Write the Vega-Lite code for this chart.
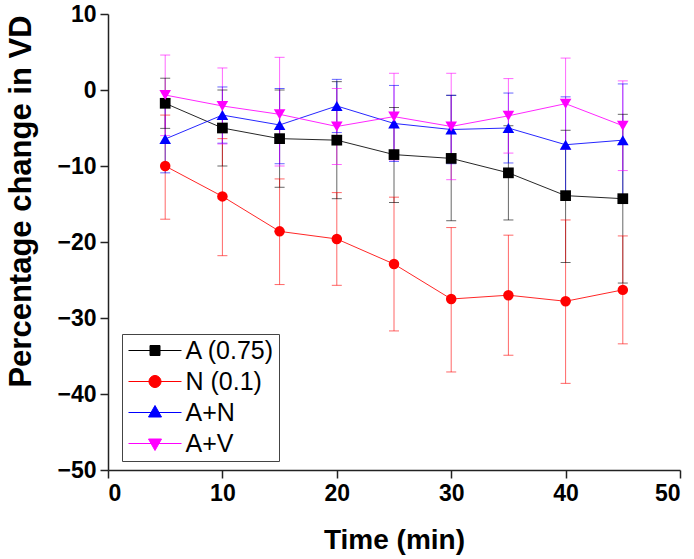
{
  "$schema": "https://vega.github.io/schema/vega-lite/v6.json",
  "width": 572,
  "height": 456,
  "autosize": "none",
  "padding": {"left": 108, "top": 14, "right": 14, "bottom": 89},
  "background": "white",
  "data": {
    "values": [
      {"series": "A (0.75)", "time": 5, "mean": -1.75, "lo": -5.05, "hi": 1.55},
      {"series": "A (0.75)", "time": 10, "mean": -5.0, "lo": -10.0, "hi": 0.0},
      {"series": "A (0.75)", "time": 15, "mean": -6.4, "lo": -12.8, "hi": 0.0},
      {"series": "A (0.75)", "time": 20, "mean": -6.6, "lo": -14.3, "hi": 1.1},
      {"series": "A (0.75)", "time": 25, "mean": -8.5, "lo": -14.8, "hi": -2.3},
      {"series": "A (0.75)", "time": 30, "mean": -9.0, "lo": -17.2, "hi": -0.7},
      {"series": "A (0.75)", "time": 35, "mean": -10.9, "lo": -17.1, "hi": -4.7},
      {"series": "A (0.75)", "time": 40, "mean": -13.9, "lo": -22.7, "hi": -5.3},
      {"series": "A (0.75)", "time": 45, "mean": -14.3, "lo": -25.4, "hi": -3.2},
      {"series": "N (0.1)", "time": 5, "mean": -10.0, "lo": -17.0, "hi": -3.3},
      {"series": "N (0.1)", "time": 10, "mean": -14.0, "lo": -21.8, "hi": -6.4},
      {"series": "N (0.1)", "time": 15, "mean": -18.6, "lo": -25.6, "hi": -11.7},
      {"series": "N (0.1)", "time": 20, "mean": -19.6, "lo": -25.7, "hi": -13.5},
      {"series": "N (0.1)", "time": 25, "mean": -22.9, "lo": -31.7, "hi": -14.1},
      {"series": "N (0.1)", "time": 30, "mean": -27.5, "lo": -37.1, "hi": -18.1},
      {"series": "N (0.1)", "time": 35, "mean": -27.0, "lo": -34.9, "hi": -19.1},
      {"series": "N (0.1)", "time": 40, "mean": -27.8, "lo": -38.6, "hi": -17.1},
      {"series": "N (0.1)", "time": 45, "mean": -26.3, "lo": -33.4, "hi": -19.2},
      {"series": "A+N", "time": 5, "mean": -6.45, "lo": -10.9, "hi": -2.0},
      {"series": "A+N", "time": 10, "mean": -3.3, "lo": -7.0, "hi": 0.4},
      {"series": "A+N", "time": 15, "mean": -4.6, "lo": -9.7, "hi": 0.2},
      {"series": "A+N", "time": 20, "mean": -2.1, "lo": -5.6, "hi": 1.4},
      {"series": "A+N", "time": 25, "mean": -4.4, "lo": -9.4, "hi": 0.6},
      {"series": "A+N", "time": 30, "mean": -5.2, "lo": -9.7, "hi": -0.7},
      {"series": "A+N", "time": 35, "mean": -5.0, "lo": -9.6, "hi": -0.4},
      {"series": "A+N", "time": 40, "mean": -7.2, "lo": -13.6, "hi": -0.9},
      {"series": "A+N", "time": 45, "mean": -6.6, "lo": -14.0, "hi": 0.8},
      {"series": "A+V", "time": 5, "mean": -0.66, "lo": -6.0, "hi": 4.6},
      {"series": "A+V", "time": 10, "mean": -2.1, "lo": -7.1, "hi": 2.9},
      {"series": "A+V", "time": 15, "mean": -3.2, "lo": -10.0, "hi": 4.3},
      {"series": "A+V", "time": 20, "mean": -4.8, "lo": -9.8, "hi": 0.2},
      {"series": "A+V", "time": 25, "mean": -3.5, "lo": -9.2, "hi": 2.2},
      {"series": "A+V", "time": 30, "mean": -4.8, "lo": -11.8, "hi": 2.2},
      {"series": "A+V", "time": 35, "mean": -3.4, "lo": -8.3, "hi": 1.5},
      {"series": "A+V", "time": 40, "mean": -1.8, "lo": -7.8, "hi": 4.2},
      {"series": "A+V", "time": 45, "mean": -4.7, "lo": -10.6, "hi": 1.2}
    ]
  },
  "encoding": {
    "x": {
      "field": "time",
      "type": "quantitative",
      "title": "Time (min)",
      "scale": {"domain": [0, 50], "nice": false, "zero": false},
      "axis": {
        "values": [0, 10, 20, 30, 40, 50],
        "titleFontSize": 28,
        "titleY": 78,
        "titleBaseline": "alphabetic"
      }
    }
  },
  "layer": [
    {
      "mark": {"type": "rule", "strokeWidth": 1, "opacity": 0.6},
      "encoding": {
        "y": {
          "field": "lo",
          "type": "quantitative",
          "title": "Percentage change in VD",
          "scale": {"domain": [-50, 10], "nice": false, "zero": false},
          "axis": {
            "values": [-50, -40, -30, -20, -10, 0, 10],
            "titleFontSize": 31,
            "titleX": -78,
            "titleY": 187,
            "titleBaseline": "alphabetic"
          }
        },
        "y2": {"field": "hi"},
        "color": {
          "field": "series",
          "type": "nominal",
          "scale": {"domain": ["A+N", "A+V", "A (0.75)", "N (0.1)"], "range": ["#0000ff", "#ff00ff", "#000000", "#ff0000"]},
          "legend": null
        }
      }
    },
    {
      "mark": {"type": "tick", "orient": "horizontal", "size": 10, "thickness": 1, "opacity": 0.6},
      "encoding": {
        "y": {"field": "hi", "type": "quantitative", "title": "Percentage change in VD"},
        "color": {"field": "series", "type": "nominal", "legend": null}
      }
    },
    {
      "mark": {"type": "tick", "orient": "horizontal", "size": 10, "thickness": 1, "opacity": 0.6},
      "encoding": {
        "y": {"field": "lo", "type": "quantitative", "title": "Percentage change in VD"},
        "color": {"field": "series", "type": "nominal", "legend": null}
      }
    },
    {
      "mark": {"type": "line", "strokeWidth": 1, "opacity": 0.85},
      "encoding": {
        "y": {"field": "mean", "type": "quantitative", "title": "Percentage change in VD"},
        "color": {"field": "series", "type": "nominal", "legend": null}
      }
    },
    {
      "transform": [{"filter": "datum.series == 'A (0.75)'"}],
      "mark": {"type": "point", "shape": "square", "filled": true, "size": 115, "opacity": 1, "color": "#000000"},
      "encoding": {
        "y": {"field": "mean", "type": "quantitative", "title": "Percentage change in VD"}
      }
    },
    {
      "transform": [{"filter": "datum.series == 'N (0.1)'"}],
      "mark": {"type": "point", "shape": "circle", "filled": true, "size": 110, "opacity": 1, "color": "#ff0000"},
      "encoding": {
        "y": {"field": "mean", "type": "quantitative", "title": "Percentage change in VD"}
      }
    },
    {
      "transform": [{"filter": "datum.series == 'A+N'"}],
      "mark": {"type": "point", "shape": "triangle-up", "filled": true, "size": 135, "opacity": 1, "color": "#0000ff"},
      "encoding": {
        "y": {"field": "mean", "type": "quantitative", "title": "Percentage change in VD"}
      }
    },
    {
      "transform": [{"filter": "datum.series == 'A+V'"}],
      "mark": {"type": "point", "shape": "triangle-down", "filled": true, "size": 135, "opacity": 1, "color": "#ff00ff"},
      "encoding": {
        "y": {"field": "mean", "type": "quantitative", "title": "Percentage change in VD"}
      }
    },
    {
      "transform": [{"filter": "false"}],
      "mark": {"type": "point", "filled": true, "opacity": 1},
      "encoding": {
        "y": {"field": "mean", "type": "quantitative", "title": "Percentage change in VD"},
        "shape": {
          "field": "series",
          "type": "nominal",
          "title": null,
          "scale": {
            "domain": ["A (0.75)", "N (0.1)", "A+N", "A+V"],
            "range": [
              "M-2.65,0H2.65M-0.5,-0.5H0.5V0.5H-0.5Z",
              "M-2.65,0H2.65M-0.6,0A0.6,0.6 0 1,0 0.6,0A0.6,0.6 0 1,0 -0.6,0Z",
              "M-2.65,0H2.65M0,-0.7L0.65,0.45L-0.65,0.45Z",
              "M-2.65,0H2.65M0,0.7L0.65,-0.45L-0.65,-0.45Z"
            ]
          }
        },
        "fill": {
          "field": "series",
          "type": "nominal",
          "title": null,
          "scale": {"domain": ["A (0.75)", "N (0.1)", "A+N", "A+V"], "range": ["#000000", "#ff0000", "#0000ff", "#ff00ff"]}
        },
        "stroke": {
          "field": "series",
          "type": "nominal",
          "title": null,
          "scale": {"domain": ["A (0.75)", "N (0.1)", "A+N", "A+V"], "range": ["#000000", "#ff0000", "#0000ff", "#ff00ff"]}
        }
      }
    }
  ],
  "config": {
    "view": {"stroke": null},
    "axis": {
      "grid": false,
      "domainColor": "#222222",
      "domainWidth": 1.5,
      "tickColor": "#222222",
      "tickWidth": 1.5,
      "tickSize": 8,
      "labelFont": "Liberation Sans",
      "labelFontWeight": "bold",
      "labelFontSize": 23,
      "labelColor": "#000000",
      "labelPadding": 4,
      "titleFont": "Liberation Sans",
      "titleFontWeight": "bold",
      "titleColor": "#000000"
    },
    "legend": {
      "orient": "none",
      "legendX": 14,
      "legendY": 320,
      "strokeColor": "#444444",
      "fillColor": "white",
      "padding": 4,
      "labelFont": "Liberation Sans",
      "labelFontSize": 25,
      "labelColor": "#000000",
      "labelOffset": 18,
      "symbolSize": 400,
      "symbolOffset": 16.5,
      "symbolStrokeWidth": 1,
      "symbolOpacity": 1,
      "rowPadding": 5
    }
  }
}
